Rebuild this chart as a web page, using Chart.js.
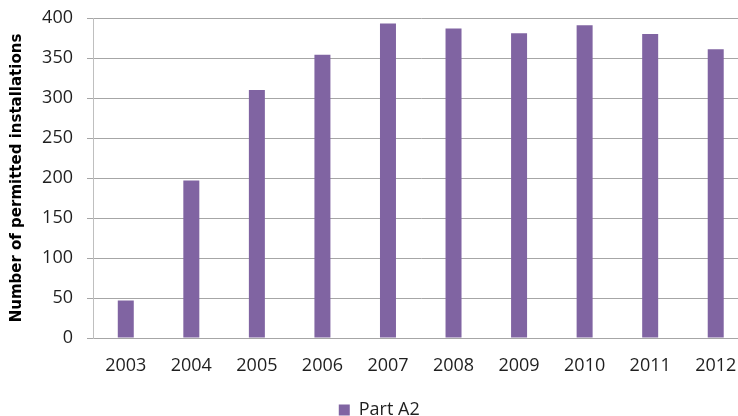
<!DOCTYPE html>
<html>
<head>
<meta charset="utf-8">
<script src="https://cdn.jsdelivr.net/npm/chart.js@4/dist/chart.umd.min.js"></script>
<style>
  html, body { margin: 0; padding: 0; background: #fff; overflow: hidden; }
  #wrap { width: 738px; height: 416px; overflow: hidden; position: relative; }
  #box { width: 760px; height: 429px; position: absolute; left: 0; top: 0; }
</style>
</head>
<body>
<div id="wrap"><div id="box"><canvas id="c"></canvas></div></div>
<script>
const categories = ['2003', '2004', '2005', '2006', '2007', '2008', '2009', '2010', '2011', '2012'];
const seriesName = 'Part A2';
const partA2 = [47, 197, 310, 354, 393, 387, 381, 391, 380, 361];
const yTicks = [0, 50, 100, 150, 200, 250, 300, 350, 400];
const yTitle = 'Number of permitted installations';

const gridColor = '#a6a6a6';
const textColor = '#1f1f1f';

new Chart(document.getElementById('c'), {
  type: 'bar',
  data: {
    labels: categories,
    datasets: [{
      label: seriesName,
      data: partA2,
      backgroundColor: '#8064A2',
      borderWidth: 0,
      categoryPercentage: 1,
      barPercentage: 0.244
    }]
  },
  options: {
    responsive: true,
    maintainAspectRatio: false,
    animation: false,
    devicePixelRatio: 1,
    layout: { autoPadding: false, padding: { left: 10, right: 11.5, top: 18, bottom: 0 } },
    plugins: {
      legend: {
        display: true,
        position: 'bottom',
        labels: {
          boxWidth: 11,
          boxHeight: 11,
          padding: 10,
          color: textColor,
          font: { family: 'Open Sans', size: 18 }
        }
      },
      tooltip: { enabled: false }
    },
    scales: {
      x: {
        grid: { display: false, drawTicks: false },
        border: { display: true, color: gridColor },
        ticks: {
          color: textColor,
          padding: 17,
          maxRotation: 0,
          font: { family: 'Open Sans', size: 18 }
        },
        afterFit: (s) => { s.height = 53; s.paddingLeft = 0; s.paddingRight = 0; }
      },
      y: {
        min: 0,
        max: 400,
        afterBuildTicks: (s) => { s.ticks = yTicks.map(v => ({ value: v })); },
        grid: { color: gridColor, lineWidth: 1, drawTicks: true, tickLength: 6 },
        border: { display: true, color: '#bfbfbf' },
        ticks: {
          color: textColor,
          padding: 14,
          font: { family: 'Open Sans', size: 18 }
        },
        title: {
          display: true,
          text: yTitle,
          color: '#000',
          padding: 0,
          font: { family: 'DejaVu Sans', size: 15, weight: 'bold', lineHeight: 1 }
        },
        afterFit: (s) => { s.width = 83; s.paddingTop = 0; s.paddingBottom = 0; }
      }
    }
  }
});
</script>
</body>
</html>
